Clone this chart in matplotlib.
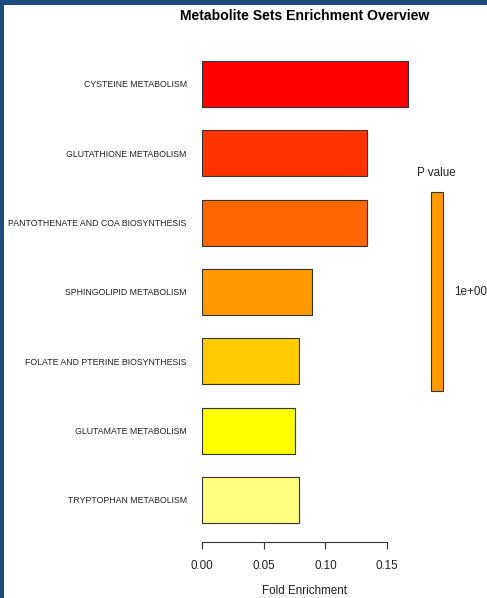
import matplotlib
matplotlib.use("Agg")
import matplotlib.pyplot as plt
from matplotlib.patches import Rectangle

# Data
pathways = ["CYSTEINE METABOLISM", "GLUTATHIONE METABOLISM",
            "PANTOTHENATE AND COA BIOSYNTHESIS", "SPHINGOLIPID METABOLISM",
            "FOLATE AND PTERINE BIOSYNTHESIS", "GLUTAMATE METABOLISM",
            "TRYPTOPHAN METABOLISM"]
fold_enrichment = [0.167, 0.134, 0.134, 0.089, 0.079, 0.075, 0.079]
bar_colors = ["#FF0000", "#FF3300", "#FF6600", "#FF9900", "#FFCC00", "#FFFF00", "#FFFF80"]
xticks = [0.00, 0.05, 0.10, 0.15]
xtick_labels = ["0.00", "0.05", "0.10", "0.15"]

plt.rcParams["font.family"] = ["Liberation Sans", "DejaVu Sans"]

W, H = 487, 598
fig = plt.figure(figsize=(W / 100, H / 100), dpi=100)


def px(x0, y0, x1, y1):
    # pixel box (top-left origin) -> figure fraction rect
    return [x0 / W, 1 - y1 / H, (x1 - x0) / W, (y1 - y0) / H]


# Main bar axes: x=0 at 202px, 0.15 at 387px
scale = (387 - 202) / 0.15
ax_left, ax_right = 202, 420
ax = fig.add_axes(px(ax_left, 32, ax_right, 542))
ax.set_xlim(0, (ax_right - ax_left) / scale)
ax.set_ylim(6.606, -0.75)

ypos = list(range(len(pathways)))
ax.barh(ypos, fold_enrichment, height=2 / 3, color=bar_colors,
        edgecolor="#333333", linewidth=0.8)

for s in ["top", "right", "left"]:
    ax.spines[s].set_visible(False)
ax.spines["bottom"].set_bounds(0, 0.15)
ax.spines["bottom"].set_color("#333333")
ax.spines["bottom"].set_linewidth(0.8)
ax.set_xticks(xticks)
ax.set_xticklabels(xtick_labels, fontsize=8.4, color="#222222")
ax.tick_params(axis="x", length=4.7, width=0.8, color="#333333", pad=8)
ax.set_yticks(ypos)
ax.set_yticklabels(pathways, fontsize=6.35, color="#222222")
ax.tick_params(axis="y", length=0, pad=11)

fig.text(304.5 / W, 1 - 591 / H, "Fold Enrichment", fontsize=8.4,
         ha="center", va="center", color="#222222")
fig.text(305 / W, 1 - 15.5 / H, "Metabolite Sets Enrichment Overview",
         fontsize=10.1, fontweight="bold", ha="center", va="center")

# P value legend bar
fig.patches.append(Rectangle((431 / W, 1 - 391 / H), 12 / W, 199 / H,
                             transform=fig.transFigure, facecolor="#FF9900",
                             edgecolor="#333333", linewidth=0.8))
fig.text(436.5 / W, 1 - 173 / H, "P value", fontsize=8.4, ha="center",
         va="center", color="#222222")
fig.text(454 / W, 1 - 292 / H, "1e+00", fontsize=8.4, ha="left",
         va="center", color="#222222")

# Dark blue frame on top and left edges
frame = "#1F4A7E"
fig.patches.append(Rectangle((0, 1 - 5 / H), 1, 5 / H, transform=fig.transFigure,
                             facecolor=frame, edgecolor="none"))
fig.patches.append(Rectangle((0, 0), 4 / W, 1, transform=fig.transFigure,
                             facecolor=frame, edgecolor="none"))

fig.savefig("out.png", dpi=100)
